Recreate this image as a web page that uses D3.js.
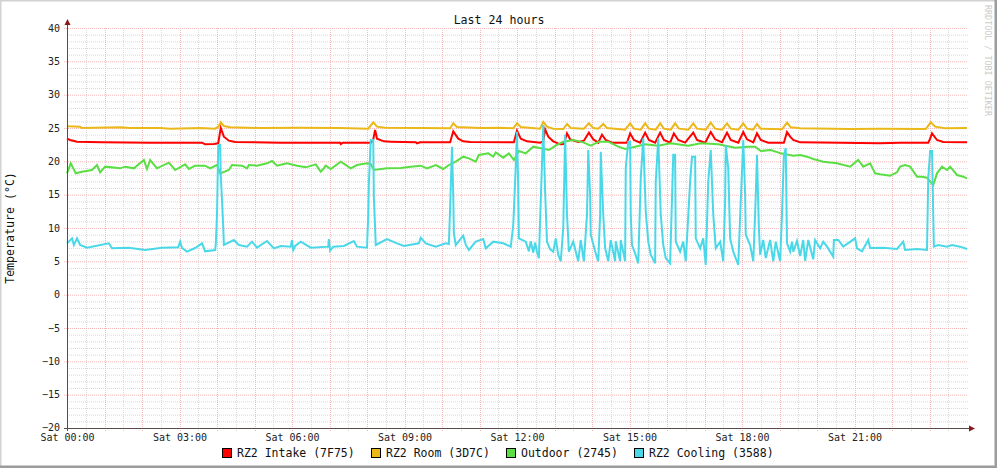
<!DOCTYPE html>
<html><head><meta charset="utf-8">
<script src="https://cdn.jsdelivr.net/npm/d3@7"></script>
<style>body{margin:0;background:#fff}svg{display:block}text{font-family:"DejaVu Sans Mono",monospace}</style>
</head><body><svg id="c" width="997" height="468"></svg>
<script>
// ---- data (time in minutes since Sat 00:00, value in °C) ----
const seriesNames = ["RZ2 Intake (7F75)", "RZ2 Room (3D7C)", "Outdoor (2745)", "RZ2 Cooling (3588)"];
const seriesColors = ["#ff0000", "#ebb81a", "#5ade44", "#4ad8e8"];
const xTickLabels = ["Sat 00:00","Sat 03:00","Sat 06:00","Sat 09:00","Sat 12:00","Sat 15:00","Sat 18:00","Sat 21:00"];
const xTickHours = [0,3,6,9,12,15,18,21];
const yTicks = [-20,-15,-10,-5,0,5,10,15,20,25,30,35,40];

const intakeT = [0,5,16,56,133,216,221,235,242,243,246,251,259,269,341,437,438,442,486,490,493,496,507,518,558,560,565,613,618,626,634,645,715,720,726,736,757,762,765,770,778,789,795,800,805,818,827,835,842,850,856,862,872,896,901,907,917,925,931,941,949,955,965,971,978,989,1002,1008,1021,1030,1037,1048,1056,1062,1074,1082,1088,1098,1104,1110,1122,1147,1152,1157,1162,1173,1301,1333,1378,1381,1384,1392,1402,1440];
const intakeV = [23.4,23.2,22.95,22.85,22.8,22.8,22.55,22.6,22.7,23.3,25.0,23.7,23.1,22.9,22.8,22.8,22.6,22.8,22.8,23.3,24.7,23.4,23.0,22.95,22.85,22.7,22.85,22.85,24.5,23.4,23.0,22.9,22.85,24.6,23.4,23.0,22.8,23.0,24.8,23.7,23.0,22.55,22.6,24.2,23.3,22.9,23.1,24.3,23.3,22.8,24.0,23.2,22.8,22.8,24.2,23.2,22.8,24.3,23.2,22.8,24.3,23.2,22.8,24.2,23.2,22.8,24.3,23.2,22.8,24.4,23.3,22.85,24.3,23.2,22.8,24.4,23.3,22.85,24.2,23.2,22.8,22.8,24.4,23.7,23.2,22.85,22.7,22.8,22.8,23.4,24.2,23.2,22.9,22.85];

const roomT = [0,21,24,85,101,149,165,213,237,242,246,251,261,309,373,437,482,490,496,509,565,613,618,624,661,693,714,720,726,757,762,768,778,794,800,806,827,835,842,850,858,864,893,901,907,918,925,931,942,949,955,966,973,979,994,1002,1008,1022,1030,1037,1048,1056,1062,1074,1082,1088,1098,1104,1110,1144,1152,1158,1173,1253,1301,1374,1382,1389,1405,1440];
const roomV = [25.25,25.2,25.0,25.1,25.0,25.0,24.9,25.0,24.9,25.2,25.85,25.3,25.1,25.0,25.05,25.0,24.9,25.85,25.2,25.05,25.0,24.95,25.7,25.15,25.0,25.05,24.95,25.7,25.15,24.9,25.9,25.2,24.9,24.85,25.6,25.0,24.9,25.7,25.0,24.9,25.6,25.0,24.75,25.7,24.9,24.75,25.7,24.9,24.75,25.7,24.9,24.75,25.7,24.9,24.75,25.7,24.9,24.75,25.8,24.9,24.75,25.7,24.9,24.75,25.7,24.9,24.75,25.6,24.9,24.8,25.8,25.1,24.95,24.85,24.9,24.85,25.85,25.2,24.95,25.0];

const outdoorT = [0,6,14,24,40,48,53,61,85,93,107,123,128,133,144,163,173,189,195,205,221,229,240,245,259,264,280,288,291,304,320,328,336,352,368,382,398,406,410,414,422,438,454,464,480,486,491,512,534,550,566,576,590,602,611,622,634,643,654,659,674,682,686,698,707,715,723,734,746,758,771,782,794,810,826,838,851,866,882,893,909,925,946,966,994,1014,1042,1069,1090,1101,1110,1126,1142,1162,1173,1184,1194,1210,1232,1253,1266,1274,1285,1293,1301,1317,1328,1333,1341,1349,1360,1368,1376,1381,1386,1392,1400,1408,1413,1424,1434,1440];
const outdoorV = [18.2,19.7,18.2,18.45,18.7,19.45,18.35,19.2,18.95,19.2,18.95,20.2,18.85,20.2,18.95,19.8,18.7,19.55,18.85,19.35,19.35,18.95,19.45,18.2,18.7,19.45,19.35,18.95,19.45,19.35,19.7,20.05,19.35,19.7,19.35,19.1,19.55,18.45,18.85,19.35,18.85,19.95,18.95,19.45,19.7,19.6,18.7,18.95,19.0,19.2,19.35,18.95,19.45,18.85,19.45,19.95,20.7,20.45,19.95,20.95,21.2,20.7,21.35,20.55,21.2,20.2,21.55,21.2,22.2,21.95,21.7,22.35,22.95,23.2,22.85,22.35,22.95,22.95,22.2,21.85,22.2,22.55,22.35,22.7,22.35,22.7,22.55,22.05,22.2,22.2,21.55,21.7,21.2,20.85,20.95,20.7,20.35,19.95,19.7,19.2,20.2,19.2,19.7,18.2,18.05,17.85,18.35,19.2,19.45,19.2,17.7,17.7,17.55,16.95,16.45,18.2,19.2,18.7,19.2,17.95,17.7,17.45];

const coolingT = [0,8,11,16,21,32,67,72,99,125,152,178,181,184,192,205,216,221,237,238,240,242,245,246,248,250,251,267,275,288,296,304,320,331,342,358,360,362,365,374,390,418,419,421,426,443,459,464,480,482,483,486,490,491,493,494,512,528,539,563,566,574,590,606,611,613,616,618,619,622,634,638,643,654,666,670,682,698,710,714,717,720,722,723,734,739,742,746,749,752,755,758,762,765,768,773,778,782,786,790,794,797,800,803,810,818,822,827,832,834,837,838,845,850,853,854,858,861,866,870,877,878,885,886,893,894,898,901,902,904,909,914,918,922,926,930,934,941,942,946,950,954,958,965,970,973,974,981,986,990,997,1000,1005,1006,1013,1018,1022,1026,1030,1034,1038,1045,1050,1053,1054,1058,1061,1066,1074,1078,1082,1085,1086,1093,1098,1101,1104,1107,1109,1114,1118,1125,1130,1134,1141,1144,1147,1150,1152,1157,1160,1162,1168,1173,1178,1181,1186,1194,1197,1205,1210,1216,1226,1227,1234,1242,1261,1264,1272,1282,1285,1306,1328,1338,1341,1360,1376,1378,1381,1384,1386,1387,1394,1408,1416,1429,1440];
const coolingV = [7.7,8.45,7.45,8.45,7.45,7.05,7.7,6.95,7.05,6.7,7.05,7.1,7.95,7.0,6.45,7.0,7.7,6.5,6.7,7.5,12.0,22.45,22.45,18.0,14.2,10.1,7.45,8.2,7.45,7.2,7.95,7.05,8.05,6.95,7.3,7.2,8.2,6.7,7.3,7.95,7.05,7.2,8.35,6.6,7.2,7.3,8.05,7.2,7.05,12.0,16.7,23.2,23.2,14.45,10.0,7.45,8.35,7.7,7.3,7.7,8.55,7.7,7.2,7.7,7.6,13.0,22.2,15.0,9.2,7.45,8.85,7.5,6.7,7.95,8.35,6.95,7.95,7.7,7.2,10.45,16.95,24.45,16.0,8.45,7.95,6.5,8.0,6.3,7.8,6.4,5.45,14.0,25.45,15.45,7.95,6.8,6.45,8.45,6.0,5.0,10.0,24.0,12.0,6.45,7.95,5.0,8.2,5.0,12.0,21.7,15.0,9.0,6.5,5.0,12.0,21.45,12.0,7.0,5.0,8.2,5.0,8.0,5.0,8.2,5.0,19.0,22.95,22.95,12.0,7.45,6.2,4.7,17.45,23.45,12.45,7.95,6.0,4.7,16.95,23.45,12.0,7.45,5.5,4.7,21.0,21.0,7.95,6.45,7.95,5.0,16.95,20.7,20.7,8.45,6.95,8.45,4.45,16.95,21.7,12.0,6.95,7.95,5.0,14.0,22.45,19.0,8.45,6.45,4.45,14.0,23.2,15.0,9.0,7.45,5.0,12.0,21.0,10.0,6.0,8.2,5.5,8.2,5.0,7.95,5.0,12.0,21.0,22.0,7.7,6.45,7.95,6.45,8.05,5.8,8.2,5.05,8.2,5.3,8.2,6.95,7.95,7.2,5.7,8.2,8.2,7.2,8.45,6.95,6.5,8.2,7.0,7.05,6.85,7.95,6.7,6.85,6.7,17.45,21.55,21.55,12.0,7.2,7.45,7.2,7.45,7.2,6.85];

const seriesT = [intakeT, roomT, outdoorT, coolingT];
const seriesV = [intakeV, roomV, outdoorV, coolingV];

// ---- drawing ----
const W = 997, H = 468;
const svg = d3.select("#c");
const base = new Date(2000, 0, 1, 0, 0, 0);
const t = m => new Date(base.getTime() + m * 60000);
const x = d3.scaleTime().domain([t(0), t(1440)]).range([67, 967]);
const y = d3.scaleLinear().domain([-20, 40]).range([428, 28]);

svg.append("rect").attr("width", W).attr("height", H).attr("fill", "#fff");
// frame
svg.append("path").attr("d", `M0,${H} V0 H${W}`).attr("fill","none").attr("stroke","#d2d2d2").attr("stroke-width",3);
svg.append("path").attr("d", `M0,${H-1} H${W-1} V0`).attr("fill","none").attr("stroke","#9c9c9c").attr("stroke-width",3);

const X0 = x.range()[0], X1 = x.range()[1], Y0 = y.range()[0], Y1 = y.range()[1];
const g = svg.append("g");
const minorCol = "#dadada", majorCol = "#f6b8b8";
// minor grid
const minorY = d3.range(-20, 41, 1).filter(v => v % 5 !== 0);
g.selectAll(".mgy").data(minorY).join("line")
  .attr("x1", X0).attr("x2", X1 + 1).attr("y1", d => y(d) + 0.5).attr("y2", d => y(d) + 0.5)
  .attr("stroke", minorCol).attr("stroke-dasharray", "1,1");
const minorX = d3.range(30, 1440, 60);
g.selectAll(".mgx").data(minorX).join("line")
  .attr("x1", d => Math.round(x(t(d))) + 0.5).attr("x2", d => Math.round(x(t(d))) + 0.5).attr("y1", Y1).attr("y2", Y0 + 3)
  .attr("stroke", minorCol).attr("stroke-dasharray", "1,1");
// major grid
g.selectAll(".gy").data(yTicks).join("line")
  .attr("x1", X0 - 3).attr("x2", X1 + 1).attr("y1", d => y(d) + 0.5).attr("y2", d => y(d) + 0.5)
  .attr("stroke", majorCol).attr("stroke-dasharray", "1,1");
const majorX = d3.range(60, 1440, 60);
g.selectAll(".gx").data(majorX).join("line")
  .attr("x1", d => Math.round(x(t(d))) + 0.5).attr("x2", d => Math.round(x(t(d))) + 0.5).attr("y1", Y1).attr("y2", Y0 + 3)
  .attr("stroke", majorCol).attr("stroke-dasharray", "1,1");

// series
const line = d3.line().x(d => x(t(d[0]))).y(d => y(d[1]));
seriesT.forEach((T, i) => {
  const pts = T.map((m, k) => [m, seriesV[i][k]]);
  svg.append("path").attr("d", line(pts)).attr("fill", "none")
    .attr("stroke", seriesColors[i]).attr("stroke-width", 2).attr("stroke-linejoin", "miter");
});

// axes lines with arrows
svg.append("line").attr("x1", X0 + 0.5).attr("x2", X0 + 0.5).attr("y1", Y0 + 3).attr("y2", 24).attr("stroke", "#5a4a4a").attr("stroke-width", 1);
svg.append("line").attr("x1", X0 - 3).attr("x2", 972).attr("y1", Y0 + 0.5).attr("y2", Y0 + 0.5).attr("stroke", "#5a4a4a").attr("stroke-width", 1);
svg.append("path").attr("d", `M${X0 - 2.5},25 L${X0 + 0.5},19 L${X0 + 3.5},25 Z`).attr("fill", "#8a1a1a");
svg.append("path").attr("d", `M969,${Y0 - 2.5} L975,${Y0 + 0.5} L969,${Y0 + 3.5} Z`).attr("fill", "#8a1a1a");

// axis labels via d3 axes
const xa = svg.append("g").attr("transform", `translate(0,${Y0})`)
  .call(d3.axisBottom(x).tickValues(xTickHours.map(h => t(h * 60))).tickFormat((d, i) => xTickLabels[i]).tickSize(0).tickPadding(6));
xa.select(".domain").remove();
xa.selectAll("text").attr("font-family", "DejaVu Sans Mono").attr("font-size", 10).attr("fill", "#222");
const ya = svg.append("g").attr("transform", `translate(${X0},0)`)
  .call(d3.axisLeft(y).tickValues(yTicks).tickSize(0).tickPadding(7));
ya.select(".domain").remove();
ya.selectAll("text").attr("font-family", "DejaVu Sans Mono").attr("font-size", 10).attr("fill", "#222");
ya.selectAll("text").filter(d => d === -20).attr("dy", "0.2em");

// title and y label
svg.append("text").attr("x", 499).attr("y", 24).attr("text-anchor", "middle").attr("font-size", 11.6).attr("fill", "#111").text("Last 24 hours");
svg.append("text").attr("transform", "translate(14,228) rotate(-90)").attr("text-anchor", "middle").attr("font-size", 11.6).attr("fill", "#111").text("Temperature (°C)");
svg.append("text").attr("transform", "translate(985,5) rotate(90)").attr("font-size", 8.4).attr("fill", "#cbcbcb").text("RRDTOOL / TOBI OETIKER");

// legend
const legX = [222, 371, 506, 634];
seriesNames.forEach((n, i) => {
  svg.append("rect").attr("x", legX[i] + 0.5).attr("y", 448.5).attr("width", 9).attr("height", 9)
    .attr("fill", seriesColors[i]).attr("stroke", "#000").attr("stroke-width", 1);
  svg.append("text").attr("x", legX[i] + 15).attr("y", 457).attr("font-size", 11.5).attr("fill", "#111").text(n);
});
</script></body></html>
